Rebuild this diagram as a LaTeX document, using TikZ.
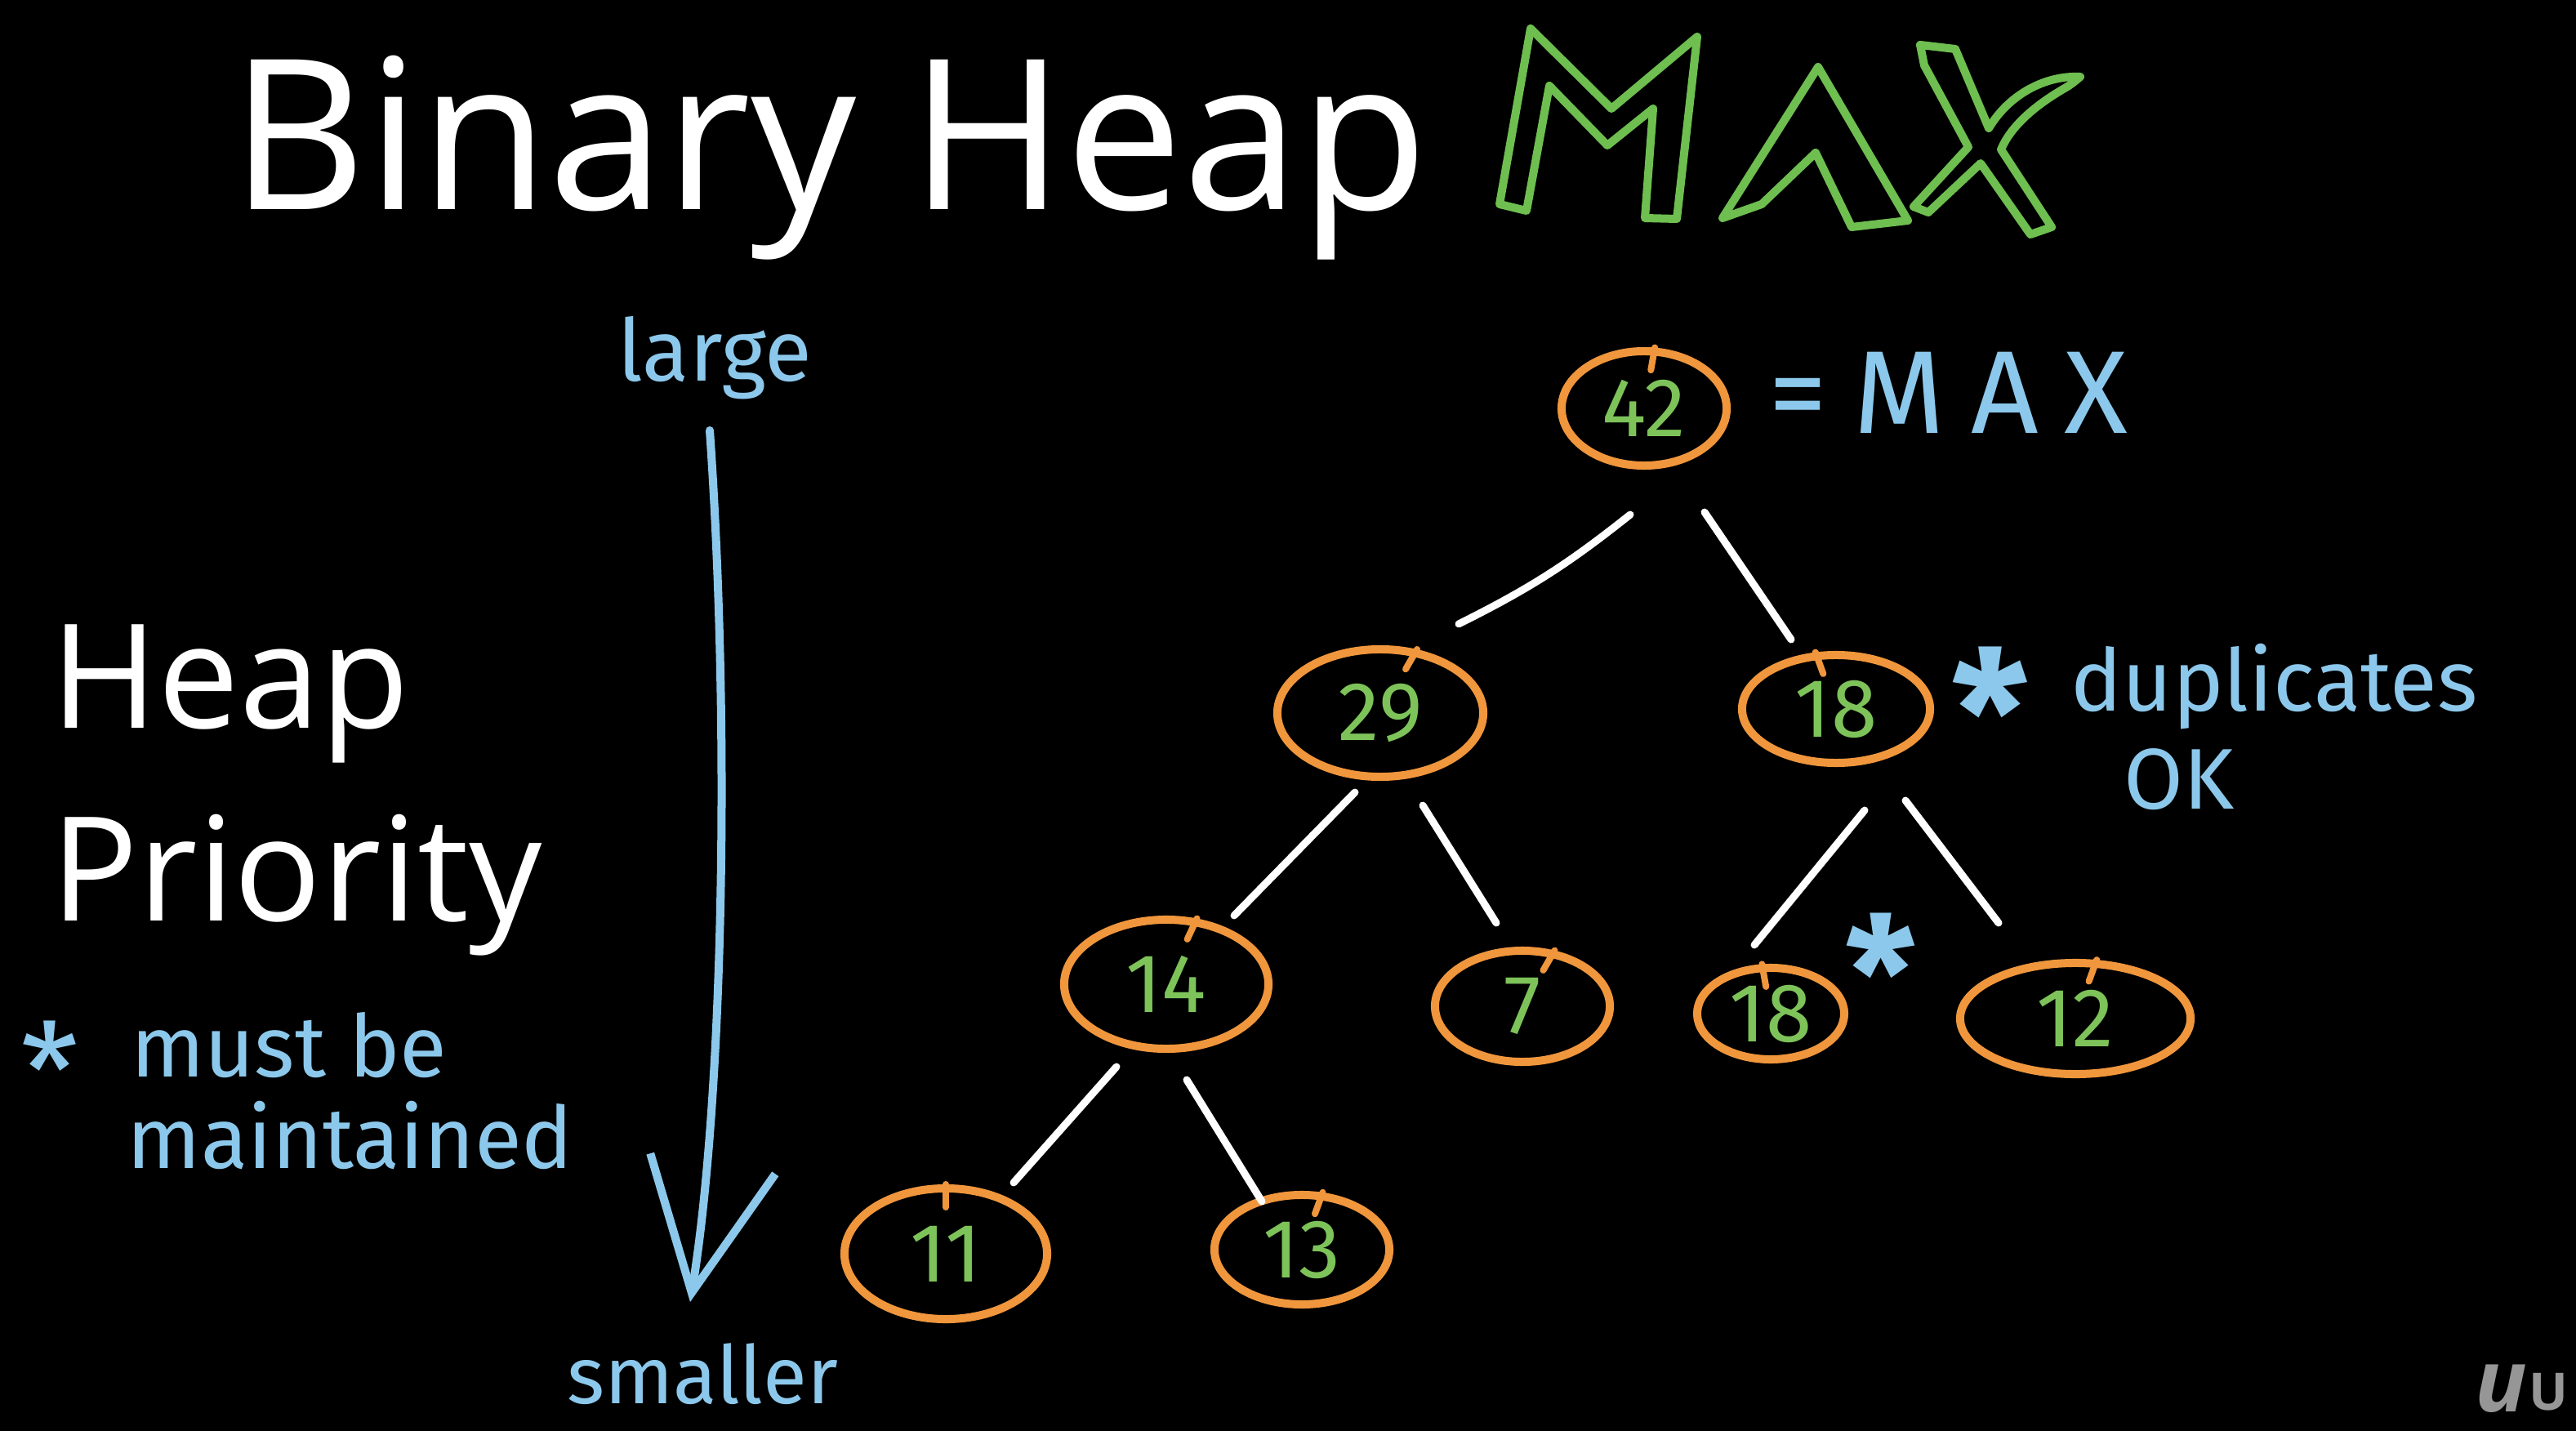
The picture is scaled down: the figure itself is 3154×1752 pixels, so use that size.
\documentclass[tikz,border=0pt]{standalone}
\usepackage{fontspec}
\setmainfont{Open Sans}
\newfontfamily\handfont{Fira Sans}
\usetikzlibrary{shapes.geometric,calc,arrows.meta}
\definecolor{orangec}{RGB}{240,150,60}
\definecolor{greend}{RGB}{125,195,90}
\definecolor{greenm}{RGB}{110,190,80}
\definecolor{bluec}{RGB}{140,200,235}
\definecolor{grayc}{RGB}{150,150,150}
\newcommand{\mycurl}[2]{\draw[curlline] (#1.#2) -- ($(#1.#2)!0.28cm!(#1.center)$);}
\begin{document}
\begin{tikzpicture}[x=0.01cm,y=-0.01cm,
  heapnode/.style={ellipse, draw=orangec, line width=0.1cm, inner sep=0pt, text=greend, font=\handfont\fontsize{29}{29}\selectfont},
  edge/.style={draw=white, line width=0.09cm, line cap=round},
  hand/.style={text=bluec, font=\handfont\fontsize{30}{30}\selectfont, inner sep=0pt},
  big/.style={text=white, inner sep=0pt},
  maxline/.style={draw=greenm, line width=0.1cm, line join=round},
  curlline/.style={draw=orangec, line width=0.08cm, line cap=round}]
\fill[black] (0,0) rectangle (3154,1752);
\useasboundingbox (0,0) rectangle (3154,1752);

% title
\node[big, anchor=base west, font=\fontsize{73}{80}\selectfont] (title) at (282,257) {Binary Heap};
% MAX outlined
\draw[maxline] (1836,250) -- (1874,35) -- (1973,133) -- (2078,45) -- (2053,268) -- (2014,267) -- (2024,133) -- (1968,178) -- (1897,105) -- (1869,258) -- cycle;
\draw[maxline] (2109,267) -- (2226,82) -- (2336,270) -- (2267,278) -- (2223,187) -- (2157,250) -- cycle;
\draw[maxline] (2351,55) -- (2394,60) -- (2435,157) .. controls (2460,115) and (2505,92) .. (2547,94) .. controls (2540,100) and (2535,104) .. (2528,108) .. controls (2490,130) and (2462,155) .. (2450,183) -- (2512,278) -- (2486,287) -- (2425,200) -- (2361,260) -- (2343,253) -- (2410,180) -- (2356,80) -- cycle;

% left texts
\node[big, anchor=base west, font=\fontsize{50.5}{55}\selectfont] (heap) at (62,891) {Heap};
\node[big, anchor=base west, font=\fontsize{50.5}{55}\selectfont] (prio) at (62,1127) {Priority};
\node[hand, anchor=base] (large) at (875,467) {large};
\node[hand, anchor=base, font=\handfont\fontsize{28}{28}\selectfont] (smaller) at (860,1718) {smaller};
\node[hand, anchor=base west] (must) at (25,1318) {{\fontsize{46}{46}\selectfont\raisebox{-0.32em}{*}}\hspace{0.6em}must be};
\node[hand, anchor=base west] (maint) at (155,1430) {maintained};

% arrow
\coordinate (atop) at (869,527);
\coordinate (atip) at (845,1594);
\draw[draw=bluec, line width=0.1cm, line cap=round, -{Straight Barb[length=1.6cm, width=1.55cm, line width=0.1cm]}] (atop) .. controls (895,900) and (885,1350) .. (atip);

% heap nodes
\node[heapnode, minimum width=2.02cm, minimum height=1.4cm] (n42) at (2013,500) {42};
\node[heapnode, minimum width=2.52cm, minimum height=1.56cm] (n29) at (1690,873) {29};
\node[heapnode, minimum width=2.30cm, minimum height=1.32cm] (n18a) at (2248,868) {18};
\node[heapnode, minimum width=2.50cm, minimum height=1.58cm] (n14) at (1428,1205) {14};
\node[heapnode, minimum width=2.14cm, minimum height=1.36cm] (n7) at (1864,1232) {7};
\node[heapnode, minimum width=1.80cm, minimum height=1.12cm] (n18b) at (2168,1241) {18};
\node[heapnode, minimum width=2.82cm, minimum height=1.36cm] (n12) at (2541,1247) {12};
\node[heapnode, minimum width=2.48cm, minimum height=1.60cm] (n11) at (1158,1535) {11};
\node[heapnode, minimum width=2.14cm, minimum height=1.34cm] (n13) at (1594,1530) {13};

\mycurl{n42}{80}
\mycurl{n29}{60}
\mycurl{n18a}{110}
\mycurl{n14}{65}
\mycurl{n7}{60}
\mycurl{n18b}{100}
\mycurl{n12}{70}
\mycurl{n11}{90}
\mycurl{n13}{70}

% edges
\draw[edge] ($(n42.south)+(-17,55)$) to[bend left=6] ($(n29.north)+(96,-26)$);
\draw[edge] ($(n42.south)+(74,52)$) -- ($(n18a.north)+(-55,-14)$);
\draw[edge] ($(n29.south)+(-31,14)$) -- ($(n14.north)+(83,0)$);
\draw[edge] ($(n29.south)+(52,30)$) -- ($(n7.north)+(-32,-29)$);
\draw[edge] ($(n18a.south)+(35,53)$) -- ($(n18b.north)+(-20,-23)$);
\draw[edge] ($(n18a.south)+(85,41)$) -- ($(n12.north)+(-94,-44)$);
\draw[edge] ($(n14.south)+(-61,17)$) -- ($(n11.north)+(83,-2)$);
\draw[edge] ($(n14.south)+(25,33)$) -- ($(n13.north)+(-49,13)$);

% right notes
\node[hand, anchor=base west, font=\handfont\fontsize{41}{41}\selectfont\addfontfeature{LetterSpace=22}] (eqmax) at (2165,531) {=MAX};
\node[hand, anchor=base west] (dup) at (2535,870) {duplicates};
\node[hand, anchor=base west] (ok) at (2600,990) {OK};
\node[hand, font=\handfont\bfseries\fontsize{60}{60}\selectfont] (star1) at (2437,870) {*};
\node[hand, font=\handfont\bfseries\fontsize{55}{55}\selectfont] (star2) at (2303,1190) {*};

% logo
\node[text=grayc, inner sep=0pt, font=\fontsize{30}{30}\selectfont\bfseries\itshape] (logo) at (3062,1700) {u};
\node[text=grayc, inner sep=0pt, anchor=west, font=\fontsize{18}{18}\selectfont\bfseries] (logo2) at (3096,1704) {U};
\end{tikzpicture}
\end{document}
